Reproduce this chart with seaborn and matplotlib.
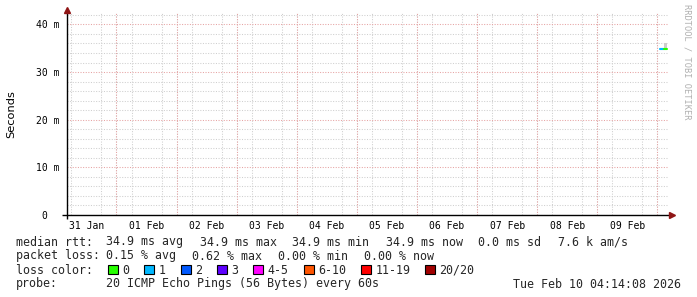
import numpy as np
import pandas as pd
import matplotlib
matplotlib.use("Agg")
import matplotlib.pyplot as plt
import matplotlib.dates as mdates
from matplotlib.patches import Rectangle
import seaborn as sns

# ---------------- data ----------------
range_start = "2026-01-31 04:14:08"
range_end = "2026-02-10 04:14:08"
sample_times = ["2026-02-10 00:56", "2026-02-10 01:20", "2026-02-10 01:44",
                "2026-02-10 02:08", "2026-02-10 02:32", "2026-02-10 02:56",
                "2026-02-10 03:20", "2026-02-10 03:50"]
median_rtt_ms = [34.9, 34.9, 34.9, 34.9, 34.9, 34.9, 34.9, 34.9]
loss_count = ["1", "1", "1", "1", "0", "0", "0"]          # per interval
smoke_top_ms = [34.9, 34.9, 34.9, 34.9, 34.9, 36.2, 36.2, 36.2]
y_ticks = [0, 10, 20, 30, 40]
y_tick_labels = ["0  ", "10 m", "20 m", "30 m", "40 m"]
loss_labels = ["0", "1", "2", "3", "4-5", "6-10", "11-19", "20/20"]
loss_colors = ["#26ff00", "#00b8ff", "#0059ff", "#5e00ff", "#ff00ff",
               "#ff5500", "#ff0000", "#a10000"]
row1_label = "median rtt:"
row1_items = ["34.9 ms avg", "34.9 ms max", "34.9 ms min", "34.9 ms now",
              "0.0 ms sd", "7.6 k am/s"]
row2_label = "packet loss:"
row2_items = ["0.15 % avg", "0.62 % max", "0.00 % min", "0.00 % now"]
row3_label = "loss color:"
row4_label = "probe:"
row4_text = "20 ICMP Echo Pings (56 Bytes) every 60s"
stamp = "Tue Feb 10 04:14:08 2026"
watermark = "RRDTOOL / TOBI OETIKER"

# ---------------- figure ----------------
sns.set_theme(style="white")
plt.rcParams["font.family"] = ["DejaVu Sans Mono", "DejaVu Sans"]

W, H = 697, 297
fig = plt.figure(figsize=(W / 100, H / 100), dpi=100, facecolor="white")
L, R, T, B = 67, 668, 13, 215
ax = fig.add_axes([L / W, 1 - B / H, (R - L) / W, (B - T) / H])
ax.set_facecolor("white")

t0, t1 = pd.Timestamp(range_start), pd.Timestamp(range_end)
times = pd.to_datetime(sample_times)

# smoke
ax.fill_between(times, median_rtt_ms, smoke_top_ms, step="mid",
                color="#cccccc", lw=0, zorder=2)

# median line coloured by loss
rows = []
for i in range(len(times) - 1):
    for j in (i, i + 1):
        rows.append(dict(t=times[j], rtt=median_rtt_ms[j], seg=i, loss=loss_count[i]))
df = pd.DataFrame(rows)
pal = dict(zip(loss_labels, loss_colors))
sns.lineplot(data=df, x="t", y="rtt", hue="loss", units="seg", estimator=None,
             palette={k: pal[k] for k in df["loss"].unique()},
             linewidth=1.5, legend=False, ax=ax, zorder=3)

ax.set_xlim(t0, t1)
ax.set_ylim(0, 42.4)
ax.set_xlabel("")
ax.set_ylabel("")

# grid
minor_grid = "#cfcfcf"
major_grid = "#e6a3a3"
dot = (0, (1, 1.5))
ax.set_yticks(y_ticks)
ax.set_yticklabels(y_tick_labels)
ax.set_yticks(np.arange(0, 42.4, 2), minor=True)
noons = pd.date_range("2026-01-31 12:00", "2026-02-09 12:00", freq="D")
ax.set_xticks(noons)
ax.set_xticklabels([d.strftime("%d %b") for d in noons])
ax.xaxis.set_minor_locator(mdates.HourLocator(byhour=[0, 6, 12, 18]))
ax.grid(which="minor", axis="both", color=minor_grid, ls=dot, lw=0.75)
ax.grid(which="major", axis="y", color=major_grid, ls=dot, lw=0.75)
midnights = pd.date_range("2026-02-01", "2026-02-10", freq="D")
ax.vlines(midnights, 0, 1, transform=ax.get_xaxis_transform(),
          colors=major_grid, linestyles=dot, lw=0.75, zorder=1)
ax.set_axisbelow(True)

for s in ax.spines.values():
    s.set_visible(False)
ax.tick_params(which="both", length=0)
ax.tick_params(axis="x", pad=4.5, labelsize=7, colors="#000000")
ax.tick_params(axis="y", pad=5.5, labelsize=7, colors="#000000")

# axes lines + arrows
aw, ah = R - L, B - T
ax.plot([-5 / aw, 1 + 3 / aw], [0, 0], transform=ax.transAxes, color="black",
        lw=1.0, clip_on=False, zorder=4, solid_capstyle="butt")
ax.plot([0, 0], [-4 / ah, 1 + 2 / ah], transform=ax.transAxes, color="black",
        lw=1.0, clip_on=False, zorder=4, solid_capstyle="butt")
arrow_c = "#8f1515"
ax.plot([1 + 4 / aw], [0], marker=">", ms=4.5, color=arrow_c, mec=arrow_c,
        transform=ax.transAxes, clip_on=False, zorder=5)
ax.plot([0], [1 + 3 / ah], marker="^", ms=4.5, color=arrow_c, mec=arrow_c,
        transform=ax.transAxes, clip_on=False, zorder=5)

# y label and watermark
fig.text(11 / W, 1 - 114 / H, "Seconds", rotation=90, ha="center", va="center",
         fontsize=8.2, family="DejaVu Sans", color="black")
fig.text(687 / W, 1 - 4 / H, watermark, rotation=270, ha="center", va="top",
         fontsize=6.2, color="#b0b0b0")

# legend rows
fs = 8.4
cw = 7.0  # px per char
gap = 16
def px(x, y):
    return x / W, 1 - y / H

def row(label, items, y, x0=106.5):
    fig.text(*px(15.5, y), label, fontsize=fs, va="baseline", ha="left")
    x = x0
    for it in items:
        fig.text(*px(x, y), it, fontsize=fs, va="baseline", ha="left")
        x += len(it) * cw + gap

row(row1_label, row1_items, 245.5)
row(row2_label, row2_items, 259.5)

y3 = 273.5
fig.text(*px(15.5, y3), row3_label, fontsize=fs, va="baseline", ha="left")
x = 108
for lab, col in zip(loss_labels, loss_colors):
    fig.patches.append(Rectangle((x / W, 1 - 274 / H), 10 / W, 9.5 / H,
                                 transform=fig.transFigure, facecolor=col,
                                 edgecolor="black", lw=0.8))
    fig.text(*px(x + 14.5, y3), lab, fontsize=fs, va="baseline", ha="left")
    x = x + 15 + len(lab) * cw + 14.3

fig.text(*px(15.5, 287.5), row4_label, fontsize=fs, va="baseline", ha="left")
fig.text(*px(106.5, 287.5), row4_text, fontsize=fs, va="baseline", ha="left")
fig.text(*px(681, 287.5), stamp, fontsize=fs, va="baseline", ha="right")

fig.savefig("out.png", dpi=100, facecolor="white")
